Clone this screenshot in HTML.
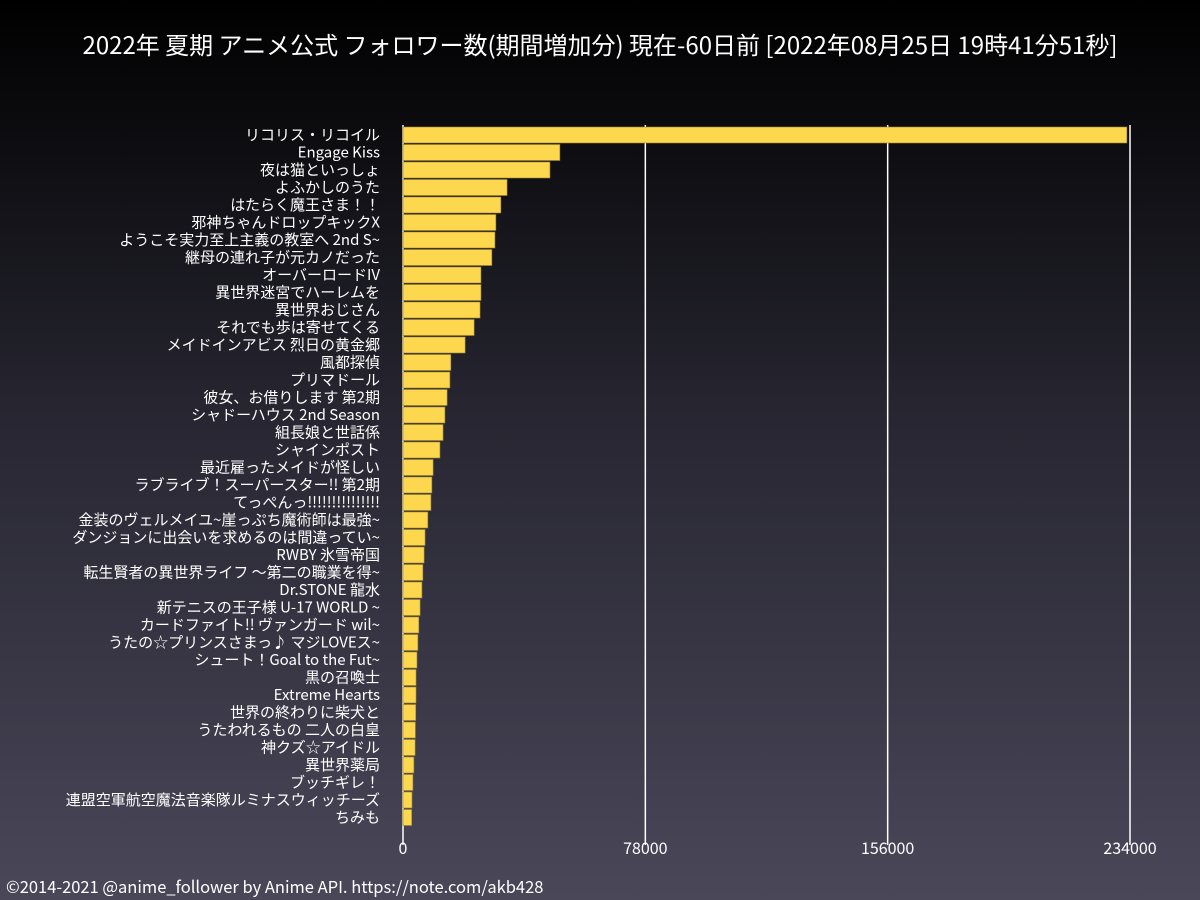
<!DOCTYPE html>
<html><head><meta charset="utf-8"><style>
html,body{margin:0;padding:0}
body{width:1200px;height:900px;background:linear-gradient(#000 0%,#262530 45%,#4a4759 100%);font-family:"Noto Sans CJK JP","Liberation Sans",sans-serif;overflow:hidden}
svg{display:block}
svg text{font-family:"Noto Sans CJK JP","Liberation Sans",sans-serif;fill:#fff}
</style></head><body>
<svg id="chart" width="1200" height="900">
<text x="600" y="54" text-anchor="middle" font-size="24">2022年 夏期 アニメ公式 フォロワー数(期間増加分) 現在-60日前 [2022年08月25日 19時41分51秒]</text>
<g id="grid"></g><g id="bars"></g><g id="labels"></g><g id="ticks"></g>
<text x="6" y="893" font-size="16.5">©2014-2021 @anime_follower by Anime API. https://note.com/akb428</text>
</svg>
<script>
const categories=["リコリス・リコイル","Engage Kiss","夜は猫といっしょ","よふかしのうた","はたらく魔王さま！！","邪神ちゃんドロップキックX","ようこそ実力至上主義の教室へ 2nd S~","継母の連れ子が元カノだった","オーバーロードIV","異世界迷宮でハーレムを","異世界おじさん","それでも歩は寄せてくる","メイドインアビス 烈日の黄金郷","風都探偵","プリマドール","彼女、お借りします 第2期","シャドーハウス 2nd Season","組長娘と世話係","シャインポスト","最近雇ったメイドが怪しい","ラブライブ！スーパースター!! 第2期","てっぺんっ!!!!!!!!!!!!!!!","金装のヴェルメイユ~崖っぷち魔術師は最強~","ダンジョンに出会いを求めるのは間違ってい~","RWBY 氷雪帝国","転生賢者の異世界ライフ ～第二の職業を得~","Dr.STONE 龍水","新テニスの王子様 U-17 WORLD ~","カードファイト!! ヴァンガード wil~","うたの☆プリンスさまっ♪ マジLOVEス~","シュート！Goal to the Fut~","黒の召喚士","Extreme Hearts","世界の終わりに柴犬と","うたわれるもの 二人の白皇","神クズ☆アイドル","異世界薬局","ブッチギレ！","連盟空軍航空魔法音楽隊ルミナスウィッチーズ","ちみも"];
const values=[233000,50500,47300,33500,31500,29900,29600,28600,25100,25100,24800,22900,20000,15400,15100,14200,13500,12900,11900,9700,9300,9000,8000,7100,6800,6400,6100,5500,5100,4800,4500,4200,4200,4100,4000,3900,3500,3200,2900,2800];
const ticks=[0,78000,156000,234000];
const NS="http://www.w3.org/2000/svg";
const x0=403,x1=1130,vmax=234000,top0=127,pitch=17.5;
const xs=v=>x0+(x1-x0)*v/vmax;
const ys=i=>top0+i*pitch;
function mk(t,a,p){const e=document.createElementNS(NS,t);for(const k in a)e.setAttribute(k,a[k]);p.appendChild(e);return e;}
const g=document.getElementById('grid'),b=document.getElementById('bars'),l=document.getElementById('labels'),tk=document.getElementById('ticks');
ticks.forEach(t=>{
 const ln=mk('line',{x1:xs(t),x2:xs(t),y1:125,y2:845,stroke:'#fff','stroke-width':1.5},g);
 
 
 const tx=mk('text',{x:xs(t),y:854,'text-anchor':'middle','font-size':16},tk);tx.textContent=t;
 
 
});
categories.forEach((c,i)=>{
 const r=mk('rect',{x:x0,y:ys(i),width:xs(values[i])-x0,height:16,fill:'#fdd84f',stroke:'#9a8230','stroke-width':0.6},b);
 
 
 const t=mk('text',{x:380,y:ys(i)+13,'text-anchor':'end','font-size':15},l);t.textContent=c;
 
 
});
</script>
</body></html>
